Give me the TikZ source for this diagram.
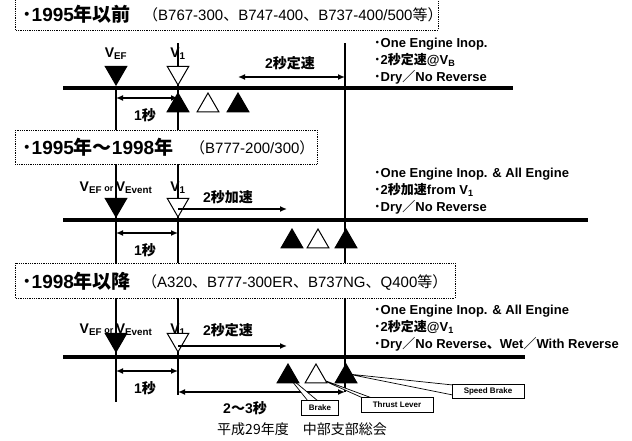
\documentclass[tikz,border=0pt]{standalone}
\usepackage{fontspec}
\setmainfont{Liberation Sans}
\newfontfamily\jp{Noto Sans CJK JP}
\newcommand{\jpt}[1]{{\jp #1}}
\usetikzlibrary{arrows.meta,shapes.geometric}

\begin{document}
\begin{tikzpicture}[x=1pt,y=-1pt,
    secbox/.style={draw, densely dotted, line width=0.8pt, fill=white},
    head/.style={font=\fontsize{19}{21}\selectfont\bfseries, inner sep=0pt, anchor=west},
    sub/.style={font=\fontsize{15}{17}\selectfont, inner sep=0pt, anchor=west},
    note/.style={font=\fontsize{13}{17}\selectfont\bfseries, align=left, inner sep=0pt, anchor=west},
    vlab/.style={font=\fontsize{14}{16}\selectfont\bfseries, inner sep=0pt},
    lab/.style={font=\fontsize{14}{16}\selectfont\bfseries, inner sep=0pt},
    runway/.style={line width=3.5pt},
    guide/.style={line width=1.1pt},
    arr/.style={-{Latex[length=7pt,width=6pt]}, line width=1.5pt},
    darr/.style={{Latex[length=7pt,width=6pt]}-{Latex[length=7pt,width=6pt]}, line width=1.5pt},
    dn/.style={regular polygon, regular polygon sides=3, shape border rotate=180, minimum size=25pt, inner sep=0pt, draw, line width=1pt, anchor=south},
    up/.style={regular polygon, regular polygon sides=3, minimum size=25pt, inner sep=0pt, draw, line width=1pt, anchor=north},
    blk/.style={fill=black},
    wht/.style={fill=white},
    wedge/.style={draw, line width=0.7pt, fill=white},
    tag/.style={draw, line width=0.9pt, fill=white, font=\fontsize{8}{9}\selectfont\bfseries, inner sep=1pt, minimum height=15pt}
]
\clip (0,0) rectangle (632,440);
% guide lines through all three cases
\coordinate (ef top) at (116,86);
\coordinate (ef bot) at (116,402);
\coordinate (v1 top) at (178,43);
\coordinate (v1 bot) at (178,395);
\coordinate (r top) at (345,43);
\coordinate (r bot) at (345,392);
\draw[guide] (ef top) -- (ef bot);
\draw[guide] (v1 top) -- (v1 bot);
\draw[guide] (r top) -- (r bot);

% --- before 1995
\draw[secbox] (15,-5) rectangle (438,30);
\node[head] (h1) at (22,14) {\jpt{･}1995\jpt{年以前}};
\node[sub] (s1) at (143,15) {\jpt{（}B767-300\jpt{、}B747-400\jpt{、}B737-400/500\jpt{等）}};
\coordinate (rw1a) at (63,88);
\coordinate (rw1b) at (513,88);
\draw[runway] (rw1a) -- (rw1b);
\node[vlab] (lef1) at (116,54) {V\textsubscript{EF}};
\node[vlab] (lvone1) at (178,54) {V\textsubscript{1}};
\node[dn, blk] (ef1) at (116,86) {};
\node[dn, wht] (vone1) at (178,86) {};
\node[up, blk] (stop1a) at (178,92) {};
\node[up, wht] (stop1b) at (208,92) {};
\node[up, blk] (stop1c) at (238,92) {};
\node[lab] (cst1) at (290,63) {2\jpt{秒定速}};
\coordinate (cst1a) at (238,77);
\draw[darr] (cst1a) -- (cst1a -| r top);
\coordinate (sec1a) at (116,98);
\draw[darr] (sec1a) -- (sec1a -| v1 top);
\node[lab] (one1) at (145,115) {1\jpt{秒}};
\node[note] (n1) at (374,61) {\jpt{･}One Engine Inop.\\\jpt{･}2\jpt{秒定速}@V\textsubscript{B}\\\jpt{･}Dry\jpt{／}No Reverse};

% --- 1995 to 1998
\draw[secbox] (15,130) rectangle (317,164);
\node[head] (h2) at (22,147) {\jpt{･}1995\jpt{年～}1998\jpt{年}};
\node[sub] (s2) at (190,148) {\jpt{（}B777-200/300\jpt{）}};
\coordinate (rw2a) at (63,220);
\coordinate (rw2b) at (588,220);
\draw[runway] (rw2a) -- (rw2b);
\node[vlab] (lef2) at (116,188) {V\textsubscript{EF}\,{\fontsize{9}{10}\selectfont or}\,V\textsubscript{Event}};
\node[vlab] (lvone2) at (178,188) {V\textsubscript{1}};
\node[dn, blk] (ef2) at (116,218) {};
\node[dn, wht] (vone2) at (178,218) {};
\node[up, blk] (stop2a) at (292,228) {};
\node[up, wht] (stop2b) at (318,228) {};
\node[up, blk] (stop2c) at (346,228) {};
\node[lab] (acc2) at (228,197) {2\jpt{秒加速}};
\coordinate (acc2a) at (178,209);
\coordinate (acc2b) at (287,209);
\draw[arr] (acc2a) -- (acc2b);
\coordinate (sec2a) at (116,233);
\draw[darr] (sec2a) -- (sec2a -| v1 top);
\node[lab] (one2) at (145,250) {1\jpt{秒}};
\node[note] (n2) at (374,191) {\jpt{･}One Engine Inop. \& All Engine\\\jpt{･}2\jpt{秒加速}from V\textsubscript{1}\\\jpt{･}Dry\jpt{／}No Reverse};

% --- 1998 onward
\draw[secbox] (15,263) rectangle (455,298);
\node[head] (h3) at (22,281) {\jpt{･}1998\jpt{年以降}};
\node[sub] (s3) at (142,282) {\jpt{（}A320\jpt{、}B777-300ER\jpt{、}B737NG\jpt{、}Q400\jpt{等）}};
\coordinate (rw3a) at (63,357);
\coordinate (rw3b) at (525,357);
\draw[runway] (rw3a) -- (rw3b);
\node[vlab] (lef3) at (116,330) {V\textsubscript{EF}\,{\fontsize{9}{10}\selectfont or}\,V\textsubscript{Event}};
\node[vlab] (lvone3) at (178,330) {V\textsubscript{1}};
\node[dn, blk] (ef3) at (116,353) {};
\node[dn, wht] (vone3) at (178,353) {};
\node[lab] (cst3) at (228,330) {2\jpt{秒定速}};
\coordinate (cst3a) at (178,346);
\coordinate (cst3b) at (287,346);
\draw[arr] (cst3a) -- (cst3b);
\coordinate (sec3a) at (116,371);
\draw[darr] (sec3a) -- (sec3a -| v1 top);
\node[lab] (one3) at (145,388) {1\jpt{秒}};
\coordinate (sec3b) at (178,392);
\draw[darr] (sec3b) -- (sec3b -| r top);
\node[lab] (two3) at (245,408) {2\jpt{～}3\jpt{秒}};
\node[note] (n3) at (374,328) {\jpt{･}One Engine Inop. \& All Engine\\\jpt{･}2\jpt{秒定速}@V\textsubscript{1}\\\jpt{･}Dry\jpt{／}No Reverse\jpt{、}Wet\jpt{／}With Reverse};
% callouts
\draw[wedge] (288,376) -- (318,401) -- (308,401) -- cycle;
\draw[wedge] (318,378) -- (372,398) -- (363,398) -- cycle;
\draw[wedge] (348,374) -- (453,385) -- (453,395) -- cycle;
\node[up, blk] (stop3a) at (288,363) {};
\node[up, wht] (stop3b) at (316,363) {};
\node[up, blk] (stop3c) at (346,363) {};
\node[tag, minimum width=37pt] (brk) at (320,408) {Brake};
\node[tag, minimum width=72pt] (thr) at (397,405) {Thrust Lever};
\node[tag, minimum width=72pt, minimum height=14pt] (spd) at (488,391) {Speed Brake};

\node[font=\fontsize{14}{16}\selectfont\jp, inner sep=0pt] (foot) at (302,429) {平成29年度　中部支部総会};
\end{tikzpicture}
\end{document}
